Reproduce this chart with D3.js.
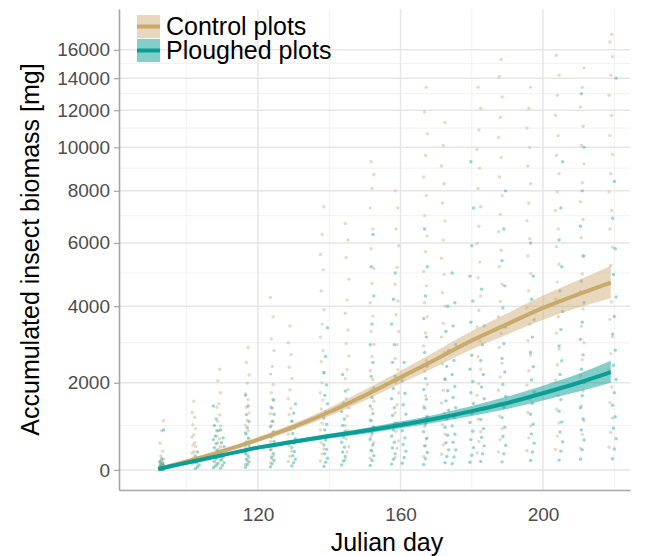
<!DOCTYPE html>
<html>
<head>
<meta charset="utf-8">
<script src="https://cdn.jsdelivr.net/npm/d3@7"></script>
<style>
  body { margin: 0; background: #fff; }
  svg text { font-family: "Liberation Sans", Arial, Helvetica, sans-serif; }
</style>
</head>
<body>
<div id="chart-area"></div>
<script>
// sampling days and accumulated biomass (mg) per trap
var ctrlDays = [93, 102, 109, 117, 124, 129, 138, 145, 152, 159, 167, 172, 182, 188, 196, 204, 211, 219];
var ctrlVals = [
  [6, 12, 18, 25, 31, 40, 44, 52, 60, 71, 80, 95, 104, 126, 150, 170, 215, 240, 310, 420, 600, 880, 1110],
  [130, 160, 240, 265, 330, 380, 410, 520, 560, 610, 740, 790, 930, 1020, 1190, 1300, 1560],
  [90, 150, 210, 300, 330, 410, 470, 520, 610, 700, 760, 880, 990, 1100, 1240, 1420, 1500, 1760, 2050, 2330],
  [120, 200, 270, 350, 460, 520, 590, 690, 800, 880, 1010, 1120, 1290, 1420, 1600, 1740, 1990, 2190, 2500, 2880],
  [160, 250, 320, 460, 540, 640, 780, 860, 1000, 1090, 1270, 1390, 1580, 1760, 1960, 2210, 2400, 2800, 3100, 3700, 4250],
  [190, 300, 420, 550, 640, 800, 910, 1100, 1250, 1390, 1620, 1830, 2100, 2380, 2700, 3000, 3450],
  [200, 360, 470, 610, 760, 900, 1050, 1230, 1380, 1590, 1760, 2000, 2240, 2520, 2800, 3150, 3500, 3900, 4450, 5100, 5600, 6300, 7350],
  [230, 400, 520, 700, 880, 1000, 1220, 1400, 1620, 1840, 2100, 2320, 2660, 2980, 3340, 3800, 4180, 4800, 5500, 6100, 6700],
  [260, 420, 610, 760, 960, 1130, 1380, 1560, 1820, 2080, 2300, 2650, 2960, 3300, 3720, 4100, 4680, 5150, 5800, 6500, 7300, 8100, 8700, 9300],
  [280, 480, 650, 870, 1060, 1290, 1480, 1760, 2000, 2320, 2600, 2950, 3300, 3760, 4150, 4650, 5180, 5900, 6500, 7300, 8000],
  [300, 540, 720, 980, 1180, 1440, 1690, 1960, 2280, 2550, 2920, 3260, 3700, 4100, 4600, 5050, 5700, 6250, 7000, 7800, 8600, 9600, 10700, 11900, 13400],
  [350, 560, 800, 1020, 1290, 1520, 1820, 2100, 2460, 2750, 3150, 3520, 4000, 4400, 4950, 5480, 6100, 6800, 7500, 8300, 9100, 10100, 11300],
  [380, 640, 860, 1150, 1400, 1700, 1980, 2330, 2650, 3050, 3420, 3880, 4300, 4850, 5350, 5980, 6600, 7350, 8100, 9000, 9900, 10900, 12100, 13400],
  [400, 680, 930, 1220, 1500, 1820, 2140, 2480, 2880, 3250, 3700, 4140, 4650, 5200, 5750, 6400, 7050, 7800, 8600, 9500, 10500, 11600, 12800, 14100, 15300],
  [430, 720, 990, 1300, 1610, 1940, 2290, 2680, 3060, 3500, 3950, 4450, 4980, 5550, 6150, 6800, 7500, 8300, 9100, 10000, 11000, 12100, 13400],
  [460, 760, 1060, 1380, 1700, 2060, 2440, 2840, 3260, 3700, 4200, 4720, 5280, 5870, 6500, 7200, 7950, 8750, 9600, 10600, 11700, 12900, 14200, 15600],
  [480, 800, 1110, 1450, 1800, 2170, 2570, 3000, 3440, 3920, 4430, 4970, 5550, 6180, 6850, 7550, 8350, 9200, 10100, 11100, 12200, 13400, 14700],
  [510, 840, 1170, 1530, 1900, 2300, 2720, 3160, 3630, 4130, 4670, 5240, 5850, 6500, 7200, 7950, 8750, 9650, 10600, 11700, 12900, 14200, 15500, 16600, 17200]
];

var plDays = [93, 103, 108, 110, 117, 124, 130, 139, 144, 152, 158, 161, 167, 173, 175, 180, 183, 189, 197, 205, 211, 220];
var plVals = [
  [3, 8, 12, 18, 24, 30, 36, 44, 52, 60, 72, 85, 100, 120, 150, 190, 250, 900],
  [30, 70, 110, 160, 220, 290, 400],
  [50, 90, 140, 190, 250, 300, 370, 440, 500, 590, 680, 760, 880, 1000, 1150, 1450],
  [40, 100, 160, 230, 290, 360, 430, 520, 610, 720, 900],
  [60, 120, 180, 240, 310, 380, 460, 540, 630, 720, 830, 950, 1090, 1250, 1450, 1700],
  [70, 140, 210, 290, 370, 450, 540, 640, 740, 850, 970, 1100, 1260, 1420, 1600],
  [90, 160, 240, 320, 410, 500, 600, 700, 820, 950, 1100, 1280, 1500],
  [80, 170, 260, 360, 460, 560, 670, 780, 900, 1030, 1170, 1320, 1500, 1700, 1950, 2250, 2650, 3400],
  [110, 200, 300, 400, 510, 620, 740, 870, 1000, 1150, 1320, 1520, 1800, 2200],
  [100, 210, 320, 440, 560, 690, 820, 960, 1110, 1270, 1450, 1650, 1880, 2150, 2500, 2950, 3500, 4300, 5200, 6300],
  [130, 240, 360, 490, 620, 760, 900, 1060, 1230, 1410, 1620, 1860, 2150, 2500, 2950, 3500, 4200, 5000],
  [150, 280, 420, 570, 720, 880, 1060, 1260, 1480, 1750, 2050, 2500],
  [120, 250, 390, 540, 700, 860, 1030, 1210, 1400, 1610, 1840, 2100, 2400, 2750, 3150, 3650, 4300, 5200, 6500],
  [160, 300, 450, 610, 780, 960, 1150, 1350, 1570, 1810, 2080, 2400, 2800, 3300, 4000],
  [140, 290, 450, 620, 800, 990, 1190, 1410, 1650, 1910, 2200, 2550, 2950, 3450, 4100, 5000],
  [170, 330, 500, 680, 870, 1070, 1280, 1510, 1760, 2030, 2330, 2680, 3080, 3550, 4150, 4900, 5900, 7300, 9300],
  [190, 360, 540, 730, 930, 1140, 1370, 1620, 1900, 2200, 2550, 2950, 3450, 4500],
  [180, 360, 550, 750, 960, 1180, 1420, 1680, 1960, 2260, 2600, 2980, 3420, 3950, 4600, 5400, 6500, 8000],
  [210, 400, 600, 810, 1030, 1260, 1510, 1780, 2070, 2390, 2750, 3150, 3620, 4200, 4900, 6000],
  [220, 420, 630, 850, 1080, 1330, 1600, 1890, 2200, 2540, 2920, 3350, 3850, 4450, 5200, 6100, 7300, 9300],
  [240, 450, 670, 900, 1150, 1410, 1690, 2000, 2330, 2690, 3090, 3550, 4100, 4750, 5550, 6600, 8000, 10000, 13000],
  [250, 470, 700, 940, 1200, 1470, 1760, 2080, 2430, 2810, 3230, 3710, 4270, 4950, 5800, 6900, 8400, 14000]
];

// fitted model curves with confidence band
var fitDays = [92, 100, 110, 120, 130, 140, 150, 160, 170, 180, 190, 200, 210, 219];
var ctrlFit = [20, 190, 420, 680, 970, 1310, 1700, 2130, 2580, 3060, 3500, 3950, 4350, 4700];
var ctrlLo  = [10, 165, 385, 630, 900, 1220, 1580, 1980, 2390, 2830, 3220, 3620, 3960, 4230];
var ctrlHi  = [30, 215, 455, 735, 1045, 1410, 1830, 2290, 2790, 3310, 3800, 4310, 4780, 5230];
var plFit = [20, 160, 330, 500, 630, 760, 880, 1010, 1160, 1330, 1520, 1750, 2000, 2260];
var plLo  = [10, 140, 300, 460, 585, 705, 815, 935, 1070, 1220, 1380, 1580, 1790, 2000];
var plHi  = [30, 180, 360, 540, 680, 815, 945, 1090, 1255, 1450, 1670, 1930, 2220, 2540];

var yMajor = [0, 2000, 4000, 6000, 8000, 10000, 12000, 14000, 16000];
var yMinor = [1000, 3000, 5000, 7000, 9000, 11000, 13000, 15000];
var xMajor = [120, 160, 200];
var xMinor = [100, 140, 180, 220];

var ctrlCol = "#c9a96c", ctrlPt = "#d2b684";
var plCol = "#0a9e96", plPt = "#2fb0a9";

var margin = {left: 119, right: 21, top: 9, bottom: 66};
var width = 651 - margin.left - margin.right;
var height = 556 - margin.top - margin.bottom;

var svg = d3.select("#chart-area").append("svg")
    .attr("width", 651)
    .attr("height", 556);

var g = svg.append("g")
    .attr("transform", "translate(" + margin.left + "," + margin.top + ")");

// pseudo-log (asinh) transform of the y axis
var tr = function(v){ return Math.asinh(v / 5000); };
var inv = function(t){ return 5000 * Math.sinh(t); };

var x = d3.scaleLinear().domain([81, 224.4]).range([0, width]);
var yT = d3.scaleLinear().domain([tr(-450), tr(19350)]).range([height, 0]);
var y = function(v){ return yT(tr(v)); };

// grid
g.selectAll(".hminor").data(yMinor).enter().append("line")
    .attr("x1", 0).attr("x2", width)
    .attr("y1", y).attr("y2", y)
    .attr("stroke", "#eeeeee").attr("stroke-width", 0.8);
g.selectAll(".vminor").data(xMinor).enter().append("line")
    .attr("x1", x).attr("x2", x)
    .attr("y1", 0).attr("y2", height)
    .attr("stroke", "#eeeeee").attr("stroke-width", 0.8);
g.selectAll(".hmajor").data(yMajor).enter().append("line")
    .attr("x1", 0).attr("x2", width)
    .attr("y1", y).attr("y2", y)
    .attr("stroke", "#e6e6e6").attr("stroke-width", 1.5);
g.selectAll(".vmajor").data(xMajor).enter().append("line")
    .attr("x1", x).attr("x2", x)
    .attr("y1", 0).attr("y2", height)
    .attr("stroke", "#e6e6e6").attr("stroke-width", 1.5);

// points
function flatten(days, vals){
    var out = [];
    days.forEach(function(d, i){
        vals[i].forEach(function(v, j){
            out.push({day: d + ((j * 7) % 5 - 2) * 0.25, v: v});
        });
    });
    return out;
}
var ctrlPts = flatten(ctrlDays, ctrlVals);
var plPts = flatten(plDays, plVals);

g.selectAll(".cpt").data(ctrlPts).enter().append("circle")
    .attr("cx", function(d){ return x(d.day); })
    .attr("cy", function(d){ return y(d.v); })
    .attr("r", 1.7)
    .attr("fill", ctrlPt).attr("fill-opacity", 0.5);
g.selectAll(".ppt").data(plPts).enter().append("circle")
    .attr("cx", function(d){ return x(d.day); })
    .attr("cy", function(d){ return y(d.v); })
    .attr("r", 1.7)
    .attr("fill", plPt).attr("fill-opacity", 0.5);

// ribbons and fitted lines
function band(lo, hi){
    return d3.area()
        .x(function(d, i){ return x(fitDays[i]); })
        .y0(function(d, i){ return y(lo[i]); })
        .y1(function(d, i){ return y(hi[i]); })
        .curve(d3.curveMonotoneX)(fitDays);
}
function fitLine(vals){
    return d3.line()
        .x(function(d, i){ return x(fitDays[i]); })
        .y(function(d, i){ return y(vals[i]); })
        .curve(d3.curveMonotoneX)(fitDays);
}
g.append("path").attr("d", band(ctrlLo, ctrlHi)).attr("fill", ctrlCol).attr("fill-opacity", 0.45);
g.append("path").attr("d", band(plLo, plHi)).attr("fill", plCol).attr("fill-opacity", 0.5);
g.append("path").attr("d", fitLine(ctrlFit)).attr("fill", "none")
    .attr("stroke", ctrlCol).attr("stroke-width", 4);
g.append("path").attr("d", fitLine(plFit)).attr("fill", "none")
    .attr("stroke", plCol).attr("stroke-width", 4);

// axes
var xAxisCall = d3.axisBottom(x).tickValues(xMajor).tickSize(0).tickSizeOuter(0).tickPadding(18);
var xAxis = g.append("g")
    .attr("class", "x axis")
    .attr("transform", "translate(0," + height + ")")
    .call(xAxisCall);
var yAxisCall = d3.axisLeft(yT)
    .tickValues(yMajor.map(tr))
    .tickFormat(function(d){ return Math.round(inv(d)); })
    .tickSizeInner(5).tickSizeOuter(0).tickPadding(4);
var yAxis = g.append("g")
    .attr("class", "y axis")
    .call(yAxisCall);

[xAxis, yAxis].forEach(function(a){
    a.select(".domain").attr("stroke", "#a6a6a6").attr("stroke-width", 1.6);
    a.selectAll(".tick line").attr("stroke", "#a6a6a6").attr("stroke-width", 1.2);
    a.selectAll(".tick text").attr("fill", "#4d4d4d").attr("font-size", "19px");
});

// axis titles
svg.append("text")
    .attr("x", 387)
    .attr("y", 551)
    .attr("font-size", "25px")
    .attr("text-anchor", "middle")
    .attr("fill", "#000")
    .text("Julian day");
g.append("text")
    .attr("x", -(height / 2))
    .attr("y", -80)
    .attr("font-size", "25px")
    .attr("text-anchor", "middle")
    .attr("transform", "rotate(-90)")
    .attr("fill", "#000")
    .text("Accumulated insect biomass [mg]");

// legend
var legend = [
    {label: "Control plots", line: ctrlCol, op: 0.45},
    {label: "Ploughed plots", line: plCol, op: 0.5}
];
var lg = svg.append("g").attr("transform", "translate(137,15)");
legend.forEach(function(l, i){
    var row = lg.append("g").attr("transform", "translate(0," + (i * 24) + ")");
    row.append("rect").attr("width", 23).attr("height", 23)
        .attr("fill", "#fff");
    row.append("rect").attr("width", 23).attr("height", 23)
        .attr("fill", l.line).attr("fill-opacity", l.op);
    row.append("line").attr("x1", 0).attr("x2", 23).attr("y1", 11.5).attr("y2", 11.5)
        .attr("stroke", l.line).attr("stroke-width", 4);
    row.append("text").attr("x", 29).attr("y", 20)
        .attr("font-size", "25px").attr("fill", "#000")
        .text(l.label);
});
</script>
</body>
</html>
